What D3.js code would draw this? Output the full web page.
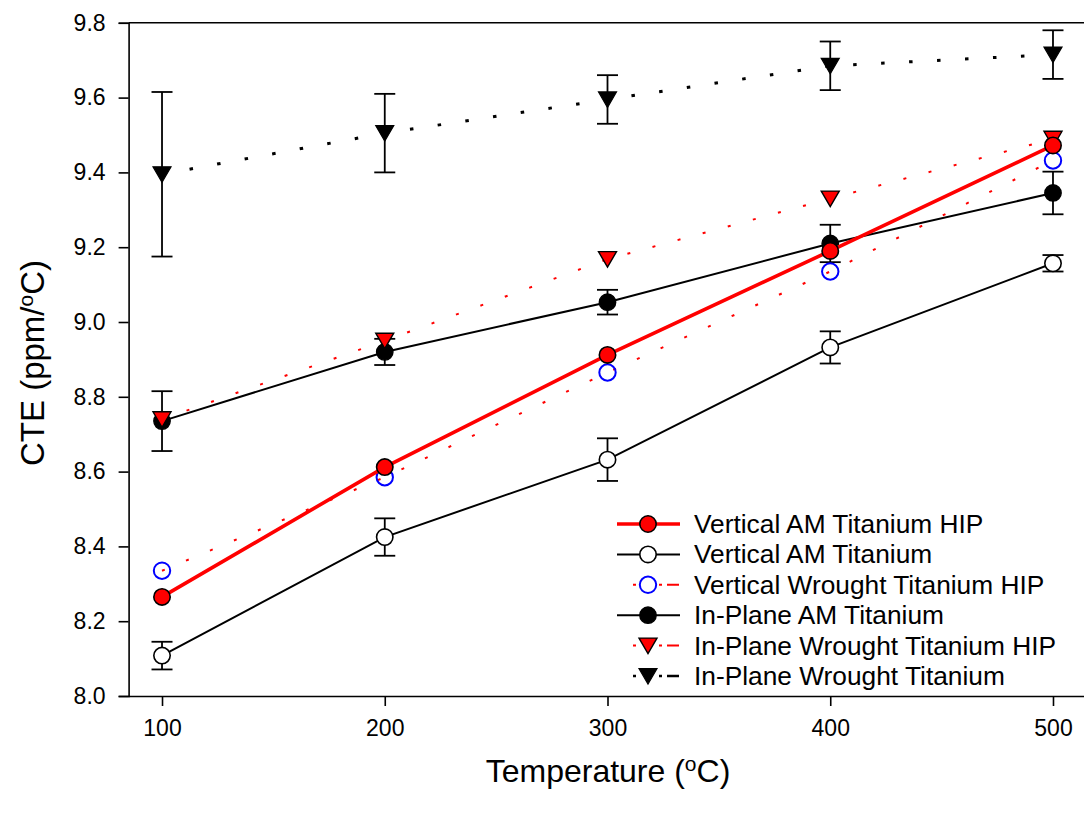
<!DOCTYPE html>
<html>
<head>
<meta charset="utf-8">
<script src="https://cdn.jsdelivr.net/npm/d3@7"></script>
<style>
  html, body { margin: 0; padding: 0; background: #fff; }
  svg { display: block; font-family: "Liberation Sans", Arial, sans-serif; }
</style>
</head>
<body>
<svg id="chart" width="1084" height="815"></svg>
<script>
// ---------- data ----------
const temperatures = [100, 200, 300, 400, 500];
const xTicks = [100, 200, 300, 400, 500];
const yTicks = [8.0, 8.2, 8.4, 8.6, 8.8, 9.0, 9.2, 9.4, 9.6, 9.8];

const verticalAMHIP = [8.265, 8.612, 8.912, 9.19, 9.472];
const verticalAM = [8.108, 8.425, 8.632, 8.932, 9.157];
const verticalAMErr = [0.037, 0.05, 0.057, 0.043, 0.022];
const verticalWroughtHIP = [8.335, 8.585, 8.865, 9.135, 9.432];
const inPlaneAM = [8.735, 8.92, 9.053, 9.21, 9.345];
const inPlaneAMErr = [0.08, 0.035, 0.033, 0.05, 0.057];
const inPlaneWroughtHIP = [8.74, 8.95, 9.168, 9.33, 9.49];
const inPlaneWrought = [9.395, 9.505, 9.595, 9.685, 9.715];
const inPlaneWroughtErr = [0.22, 0.105, 0.065, 0.065, 0.065];

const legendLabels = [
  "Vertical AM Titanium HIP",
  "Vertical AM Titanium",
  "Vertical Wrought Titanium HIP",
  "In-Plane AM Titanium",
  "In-Plane Wrought Titanium HIP",
  "In-Plane Wrought Titanium"
];

// ---------- layout ----------
const svg = d3.select("#chart");
const pL = 128.6, pR = 1086.4, pT = 22.8, pB = 696;
const x = d3.scaleLinear().domain([85, 515]).range([pL, pR]);
const y = d3.scaleLinear().domain([8.0, 9.8]).range([pB, pT]);

// frame (top line)
svg.append("line").attr("x1", pL).attr("x2", pR + 5).attr("y1", pT).attr("y2", pT)
  .attr("stroke", "#000").attr("stroke-width", 1.6);

// axes
const yAxis = svg.append("g").attr("transform", `translate(${pL},0)`)
  .call(d3.axisLeft(y).tickValues(yTicks).tickFormat(d3.format(".1f")).tickSize(10).tickPadding(13));
const xAxis = svg.append("g").attr("transform", `translate(0,${pB})`)
  .call(d3.axisBottom(x).tickValues(xTicks).tickFormat(d3.format("d")).tickSize(10).tickPadding(14));
[yAxis, xAxis].forEach(g => {
  g.select(".domain").attr("stroke", "#000").attr("stroke-width", 1.6);
  g.selectAll(".tick line").attr("stroke", "#000").attr("stroke-width", 1.6);
  g.selectAll(".tick text").attr("fill", "#000").style("font-size", "23px")
    .style("font-family", "'Liberation Sans', Arial, sans-serif");
});
xAxis.select(".domain").attr("d", `M${pL},0.5H${pR + 5}`);

// axis titles
const yt = svg.append("text").attr("transform", `translate(44,363) rotate(-90)`)
  .attr("text-anchor", "middle").style("font-size", "33px").attr("fill", "#000");
yt.append("tspan").text("CTE (ppm/");
yt.append("tspan").attr("dy", -11).style("font-size", "21px").text("o");
yt.append("tspan").attr("dy", 11).text("C)");

const xt = svg.append("text").attr("x", 608).attr("y", 782)
  .attr("text-anchor", "middle").style("font-size", "32px").attr("fill", "#000");
xt.append("tspan").text("Temperature (");
xt.append("tspan").attr("dy", -11).style("font-size", "21px").text("o");
xt.append("tspan").attr("dy", 11).text("C)");

// ---------- marks ----------
const plot = svg.append("g");
const line = d3.line().x((d, i) => x(temperatures[i])).y(d => y(d));

function errorBars(vals, errs) {
  const g = plot.append("g");
  vals.forEach((v, i) => {
    const cx = x(temperatures[i]);
    const y1 = y(v + errs[i]), y2 = y(v - errs[i]);
    g.append("line").attr("x1", cx).attr("x2", cx).attr("y1", y1).attr("y2", y2)
      .attr("stroke", "#000").attr("stroke-width", 1.8);
    [y1, y2].forEach(yy => g.append("line").attr("x1", cx - 10.5).attr("x2", cx + 10.5)
      .attr("y1", yy).attr("y2", yy).attr("stroke", "#000").attr("stroke-width", 1.8));
  });
}
const triPath = "M-9,-7.5L9,-7.5L0,8Z";
function circles(vals, fill, stroke, sw, r) {
  plot.append("g").selectAll("circle").data(vals).join("circle")
    .attr("cx", (d, i) => x(temperatures[i])).attr("cy", d => y(d))
    .attr("r", r).attr("fill", fill).attr("stroke", stroke).attr("stroke-width", sw);
}
function triangles(vals, fill, stroke, sw) {
  plot.append("g").selectAll("path").data(vals).join("path")
    .attr("d", triPath)
    .attr("transform", (d, i) => `translate(${x(temperatures[i])},${y(d)})`)
    .attr("fill", fill).attr("stroke", stroke).attr("stroke-width", sw);
}

// Vertical AM Titanium (open circles, black line)
plot.append("path").datum(verticalAM).attr("d", line).attr("fill", "none")
  .attr("stroke", "#000").attr("stroke-width", 2);
errorBars(verticalAM, verticalAMErr);
circles(verticalAM, "#fff", "#000", 1.6, 8.2);

// In-Plane AM Titanium (filled black circles)
plot.append("path").datum(inPlaneAM).attr("d", line).attr("fill", "none")
  .attr("stroke", "#000").attr("stroke-width", 2);
errorBars(inPlaneAM, inPlaneAMErr);
circles(inPlaneAM, "#000", "#000", 1.4, 8.2);

// In-Plane Wrought Titanium HIP (red triangles, red dotted)
plot.append("path").datum(inPlaneWroughtHIP).attr("d", line).attr("fill", "none")
  .attr("stroke", "#ff0000").attr("stroke-width", 2).attr("stroke-dasharray", "3,23");
triangles(inPlaneWroughtHIP, "#ff0000", "#000", 1.4);

// Vertical Wrought Titanium HIP (blue open circles, red dotted)
plot.append("path").datum(verticalWroughtHIP).attr("d", line).attr("fill", "none")
  .attr("stroke", "#ff0000").attr("stroke-width", 2).attr("stroke-dasharray", "3,23");
circles(verticalWroughtHIP, "none", "#0000ff", 2, 8.2);

// In-Plane Wrought Titanium (black triangles, black dotted)
plot.append("path").datum(inPlaneWrought).attr("d", line).attr("fill", "none")
  .attr("stroke", "#000").attr("stroke-width", 3).attr("stroke-dasharray", "3.5,24.5");
errorBars(inPlaneWrought, inPlaneWroughtErr);
triangles(inPlaneWrought, "#000", "#000", 1.2);

// Vertical AM Titanium HIP (red circles, thick red line)
plot.append("path").datum(verticalAMHIP).attr("d", line).attr("fill", "none")
  .attr("stroke", "#ff0000").attr("stroke-width", 3.6);
circles(verticalAMHIP, "#ff0000", "#000", 1.6, 8.2);

// ---------- legend ----------
const legend = svg.append("g");
const rowY = i => 524 + i * 30.4;
const lx1 = 617, lx2 = 680, mx = 648, tx = 694;
const legendStyles = [
  { color: "#ff0000", width: 3.6, dash: null, marker: "circle", fill: "#ff0000", stroke: "#000", msw: 1.6 },
  { color: "#000", width: 2, dash: null, marker: "circle", fill: "#fff", stroke: "#000", msw: 1.6 },
  { color: "#ff0000", width: 2, dash: "3,23,3,5,12,200", marker: "circle", fill: "none", stroke: "#0000ff", msw: 2 },
  { color: "#000", width: 2, dash: null, marker: "circle", fill: "#000", stroke: "#000", msw: 1.4 },
  { color: "#ff0000", width: 2, dash: "3,23,3,5,12,200", marker: "tri", fill: "#ff0000", stroke: "#000", msw: 1.4 },
  { color: "#000", width: 2.5, dash: "3,23,3,5,12,200", marker: "tri", fill: "#000", stroke: "#000", msw: 1.2 }
];
legendLabels.forEach((lab, i) => {
  const s = legendStyles[i];
  const yy = rowY(i);
  const start = s.dash ? 633 : lx1;
  const ln = legend.append("line").attr("x1", start).attr("x2", lx2).attr("y1", yy).attr("y2", yy)
    .attr("stroke", s.color).attr("stroke-width", s.width);
  if (s.dash) ln.attr("stroke-dasharray", s.dash);
  if (s.marker === "circle") {
    legend.append("circle").attr("cx", mx).attr("cy", yy).attr("r", 8.2)
      .attr("fill", s.fill).attr("stroke", s.stroke).attr("stroke-width", s.msw);
  } else {
    legend.append("path").attr("d", triPath).attr("transform", `translate(${mx},${yy})`)
      .attr("fill", s.fill).attr("stroke", s.stroke).attr("stroke-width", s.msw);
  }
  legend.append("text").attr("x", tx).attr("y", yy + 9).style("font-size", "26.3px")
    .attr("fill", "#000").text(lab);
});
</script>
</body>
</html>
